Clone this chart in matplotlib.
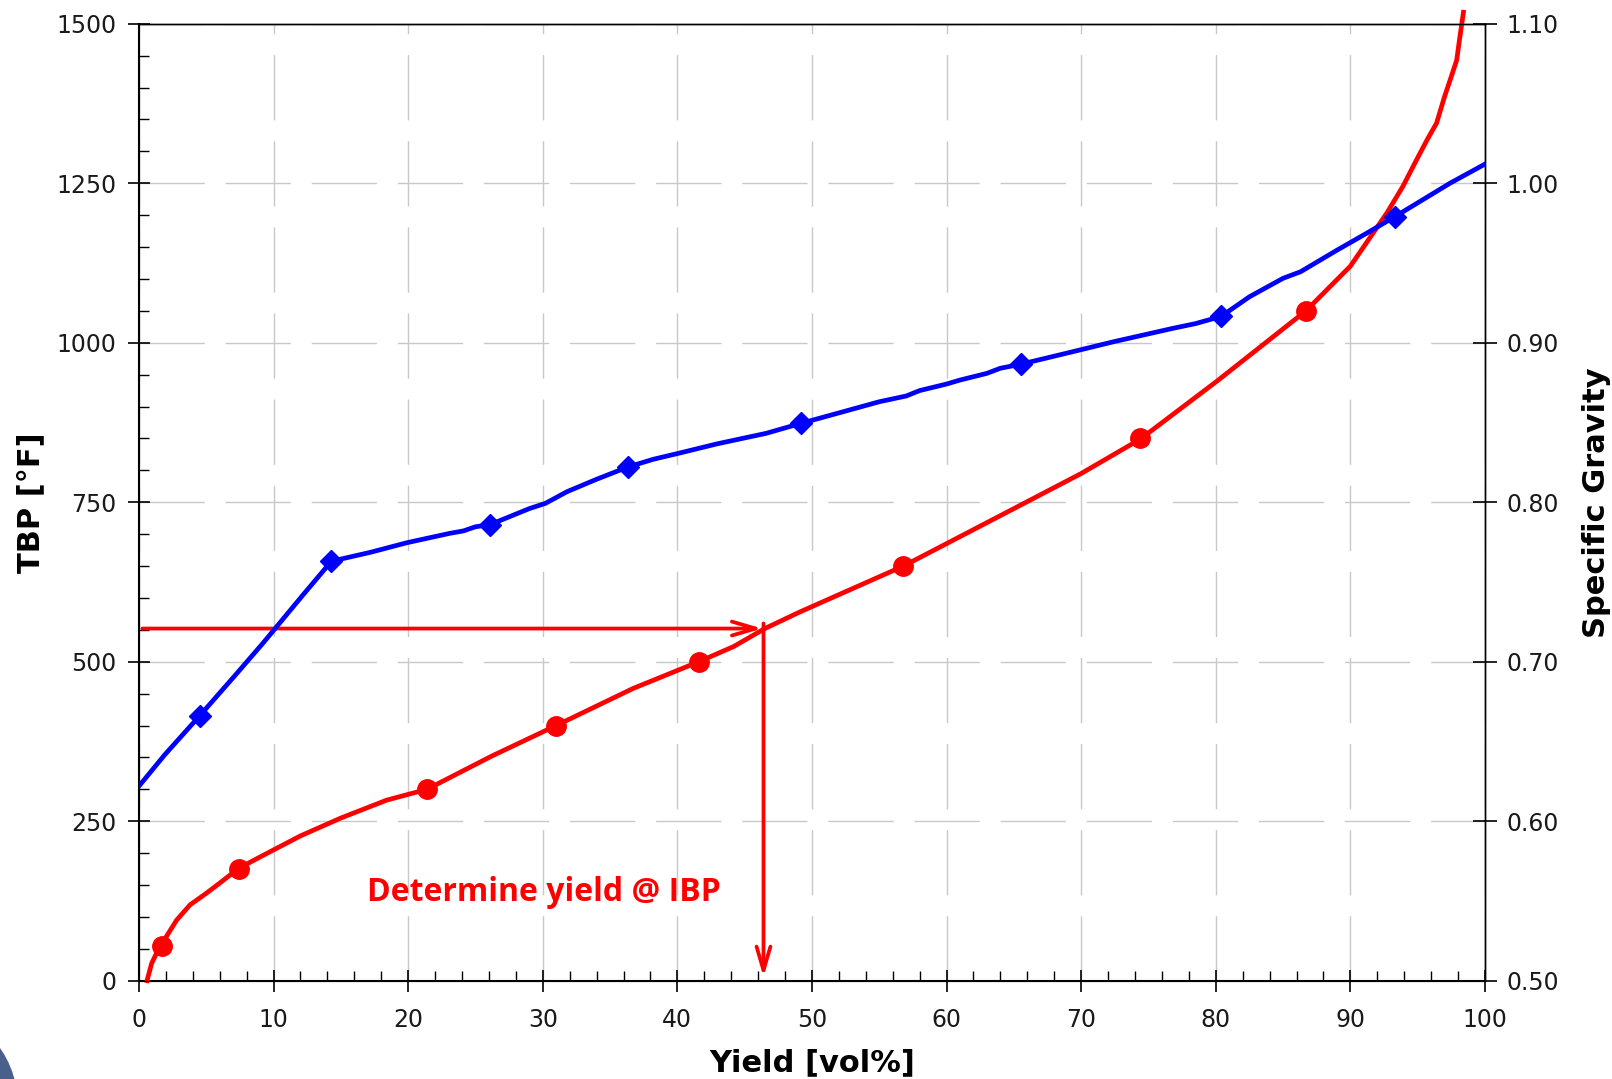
import matplotlib.pyplot as plt
import matplotlib
from matplotlib.ticker import MultipleLocator, FormatStrFormatter
from matplotlib.patches import Circle

matplotlib.rcParams['font.family'] = 'DejaVu Sans'
matplotlib.rcParams['lines.scale_dashes'] = False

# TBP curve (left axis)
tbp_curve_x = [0.6, 0.94, 1.3, 1.7, 2.0, 2.8, 3.8, 5.0, 6.0, 7.4, 9.0, 10, 12, 15, 18.4,
               21.4, 26.2, 31.0, 36.7, 41.6, 44.2, 46.5, 49.1, 56.8, 65, 70, 74.4, 80.1,
               86.7, 90.0, 92.7, 93.9, 94.9, 95.7, 96.4, 97.0, 97.4, 97.9, 98.1, 98.4]
tbp_curve_y = [0, 27, 43, 55, 68, 95, 119, 137, 153, 176, 194, 205, 227, 255, 283,
               300, 352, 400, 458, 500, 524, 552, 578, 650, 740, 795, 849, 940,
               1050, 1120, 1203, 1245, 1286, 1318, 1344, 1386, 1411, 1443, 1474, 1518]
tbp_pts_x = [1.7, 7.4, 21.4, 31.0, 41.6, 56.8, 74.4, 86.7]
tbp_pts_y = [55, 175, 300, 400, 500, 650, 850, 1050]

# specific gravity curve (right axis)
sg_curve_x = [0, 1.9, 4.5, 7.1, 9.2, 12.2, 14.3, 17.2, 19.9, 23.1, 24.1, 25.0, 26.1, 29.0,
              30.2, 31.8, 34.0, 36.3, 38.2, 40.1, 42.9, 46.6, 49.2, 52.0, 55.0, 57.0, 58.0,
              60.0, 61.0, 63.0, 64.0, 65.5, 68.9, 72.4, 74.6, 76.8, 78.5, 80.4, 82.5, 85.0,
              86.3, 89.0, 91.2, 93.3, 97.4, 100]
sg_curve_y = [0.622, 0.6415, 0.666, 0.691, 0.7115, 0.742, 0.763, 0.7686, 0.7746, 0.7805,
              0.782, 0.7846, 0.786, 0.796, 0.7993, 0.8066, 0.8144, 0.822, 0.8269, 0.8307,
              0.8365, 0.8432, 0.8495, 0.856, 0.863, 0.8666, 0.870, 0.8741, 0.8766, 0.8808,
              0.884, 0.8865, 0.8934, 0.9006, 0.9048, 0.909, 0.912, 0.9165, 0.9288, 0.9404,
              0.9445, 0.958, 0.9686, 0.979, 1.0, 1.012]
sg_pts_x = [4.5, 14.3, 26.1, 36.3, 49.2, 65.5, 80.4, 93.3]
sg_pts_y = [0.666, 0.763, 0.786, 0.822, 0.8495, 0.8865, 0.9165, 0.979]

# IBP construction
ibp_tbp = 552
ibp_yield = 46.4

fig = plt.figure(figsize=(16.12, 10.79), dpi=100)
ax = fig.add_axes([0.0862, 0.0911, 0.835, 0.8869])
ax2 = ax.twinx()

# grid
ax.grid(True, which='major', color='#c8c8c8', linewidth=1.0, linestyle=(0, (47, 15)))
ax.set_axisbelow(True)

# red TBP curve
ax.plot(tbp_curve_x, tbp_curve_y, color='#ff0000', linewidth=3.4, clip_on=False,
        zorder=3, solid_joinstyle='round')
ax.plot(tbp_pts_x, tbp_pts_y, linestyle='none', marker='o', markersize=14,
        color='#ff0000', zorder=4)

# IBP arrows
arrow_style = '->,head_length=1.7,head_width=0.5'
ax.annotate('', xy=(ibp_yield - 0.1, ibp_tbp), xytext=(0.25, ibp_tbp),
            arrowprops=dict(arrowstyle=arrow_style, color='#ff0000', lw=2.7,
                            shrinkA=0, shrinkB=0, mutation_scale=10))
ax.annotate('', xy=(ibp_yield, 6), xytext=(ibp_yield, ibp_tbp + 8),
            arrowprops=dict(arrowstyle=arrow_style, color='#ff0000', lw=2.7,
                            shrinkA=0, shrinkB=0, mutation_scale=10))
ax.text(30.1, 139, 'Determine yield @ IBP', color='#ff0000', fontsize=23,
        fontweight='bold', family='Open Sans', ha='center', va='center')

# blue SG curve
ax2.plot(sg_curve_x, sg_curve_y, color='#0000ff', linewidth=3.4, zorder=3,
         solid_joinstyle='round')
ax2.plot(sg_pts_x, sg_pts_y, linestyle='none', marker='D', markersize=11.5,
         color='#0000ff', zorder=4)

# axes ranges and ticks
ax.set_xlim(0, 100)
ax.set_ylim(0, 1500)
ax2.set_ylim(0.5, 1.1)
ax.xaxis.set_major_locator(MultipleLocator(10))
ax.xaxis.set_minor_locator(MultipleLocator(2))
ax.yaxis.set_major_locator(MultipleLocator(250))
ax.yaxis.set_minor_locator(MultipleLocator(50))
ax2.yaxis.set_major_locator(MultipleLocator(0.1))
ax2.yaxis.set_major_formatter(FormatStrFormatter('%.2f'))

ax.tick_params(which='major', direction='inout', length=16, width=1.2,
               labelsize=17, labelcolor='#1a1a1a')
ax.tick_params(axis='x', which='major', pad=12)
ax.tick_params(axis='y', which='major', pad=8)
ax.tick_params(which='minor', direction='in', length=7, width=1)
ax2.tick_params(direction='inout', length=17, width=1.2, labelsize=17,
                labelcolor='#1a1a1a', pad=7)

for side in ['left', 'bottom']:
    ax.spines[side].set_linewidth(1.5)
for side in ['top', 'right']:
    ax.spines[side].set_linewidth(1.0)
    ax2.spines[side].set_linewidth(1.0)

# axis labels
ax.set_xlabel('Yield [vol%]', fontsize=22, fontweight='bold')
ax.xaxis.set_label_coords(0.5, -0.071)
ax.set_ylabel('TBP [°F]', fontsize=22, fontweight='bold')
ax.yaxis.set_label_coords(-0.07, 0.5)
ax2.set_ylabel('Specific Gravity', fontsize=22, fontweight='bold')
ax2.yaxis.set_label_coords(1.072, 0.5)

# slide decoration in the bottom-left corner
fig.add_artist(Circle((-80, -25), 97, transform=None, color='#4b5f8c', zorder=0))

fig.savefig('out.png', dpi=100)
